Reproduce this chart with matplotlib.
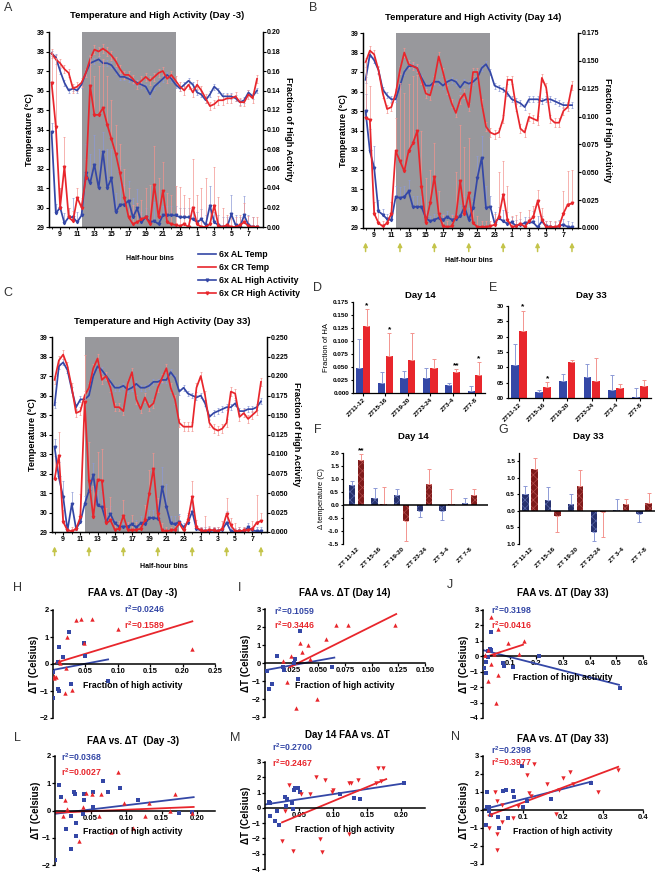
import numpy as np
import matplotlib.pyplot as plt
from matplotlib.lines import Line2D
from matplotlib.ticker import FormatStrFormatter

plt.rcParams['font.family'] = ['Liberation Sans', 'DejaVu Sans']
plt.rcParams['font.weight'] = 'bold'
plt.rcParams['axes.labelweight'] = 'bold'
plt.rcParams['mathtext.fontset'] = 'custom'
plt.rcParams['mathtext.rm'] = 'Liberation Sans:bold'
plt.rcParams['mathtext.default'] = 'rm'
plt.rcParams['hatch.linewidth'] = 0.5

# ---------------- data: half-hour bins 08:00 -> 08:00 next day ----------------
TIMES = 8 + 0.5 * np.arange(49)
TICK_HOURS = [9, 11, 13, 15, 17, 19, 21, 23, 25, 27, 29, 31]
TICK_LABELS = ['9', '11', '13', '15', '17', '19', '21', '23', '1', '3', '5', '7']
ARROW_HOURS = [8, 12, 16, 20, 24, 28, 32]

# panel A, day -3
A_al_temp = [37.9, 37.7, 37.0, 36.4, 36.0, 36.1, 36.0, 36.3, 36.9, 37.4,
             37.5, 37.6, 37.4, 37.4, 37.3, 37.0, 36.7, 36.7, 36.6, 36.5,
             36.4, 36.3, 36.2, 35.8, 36.2, 36.4, 36.6, 36.8, 36.6, 36.3,
             36.1, 36.3, 36.5, 36.3, 35.9, 35.8, 35.5, 35.8, 36.2, 36.0,
             35.7, 35.7, 35.7, 35.6, 35.4, 35.5, 35.9, 35.7, 36.0]
A_cr_temp = [37.9, 37.6, 37.4, 37.1, 36.9, 36.1, 36.2, 36.4, 36.9, 37.6,
             38.1, 38.0, 38.15, 38.0, 37.8, 37.5, 37.1, 36.8, 36.8, 36.6,
             36.3, 36.5, 36.7, 36.5, 36.7, 36.9, 37.0, 36.6, 36.8, 36.5,
             36.2, 36.0, 36.3, 35.9, 36.3, 36.0, 35.6, 35.2, 35.3, 35.5,
             35.5, 35.6, 35.6, 35.7, 35.4, 35.4, 35.8, 35.6, 36.6]
A_al_ha = [0.097, 0.014, 0.020, 0.004, 0.010, 0.010, 0.005, 0.012, 0.055, 0.045,
           0.064, 0.040, 0.077, 0.040, 0.050, 0.015, 0.023, 0.023, 0.027, 0.010,
           0.019, 0.005, 0.010, 0.005, 0.006, 0.003, 0.012, 0.012, 0.012, 0.012,
           0.010, 0.010, 0.010, 0.008, 0.005, 0.008, 0.002, 0.022, 0.005, 0.002,
           0.000, 0.000, 0.013, 0.002, 0.000, 0.012, 0.002, 0.000, 0.000]
A_cr_ha = [0.148, 0.103, 0.020, 0.062, 0.010, 0.006, 0.030, 0.020, 0.050, 0.145,
           0.115, 0.115, 0.122, 0.105, 0.090, 0.075, 0.055, 0.030, 0.010, 0.003,
           0.005, 0.008, 0.010, 0.003, 0.043, 0.010, 0.037, 0.005, 0.003, 0.002,
           0.001, 0.003, 0.000, 0.020, 0.003, 0.000, 0.000, 0.003, 0.022, 0.001,
           0.000, 0.002, 0.000, 0.000, 0.002, 0.005, 0.001, 0.000, 0.000]
A_al_ha_err = [.01, .01, .02, .01, .01, .02, .01, .01, .03, .03,
               .03, .04, .02, .04, .03, .02, .04, .02, .02, .02,
               .02, .01, .01, .01, .02, .01, .01, .01, .01, .01,
               .01, .01, .01, .01, .01, .01, .01, .02, .01, .01,
               .01, .01, .02, .01, .01, .02, .01, .01, 0]
A_cr_ha_err = [.03, .07, .02, .03, .01, .01, .01, .01, .02, .03,
               .04, .05, .05, .05, .04, .03, .03, .03, .03, .02,
               .02, .02, .03, .04, .04, .04, .03, .03, .03, .04,
               .04, .03, .03, .05, .03, .04, .05, .02, .04, .03,
               .02, .01, .01, .01, .01, .02, .01, .01, .01]

# panel B, day 14
B_al_temp = [36.6, 37.9, 37.6, 37.1, 36.1, 35.8, 35.6, 35.6, 36.3, 37.0,
             37.3, 37.3, 37.2, 36.7, 36.3, 36.3, 36.5, 36.5, 36.3, 36.5,
             36.6, 36.5, 36.2, 36.5, 36.4, 36.5, 36.7, 37.2, 37.4, 37.0,
             36.3, 36.2, 36.1, 35.9, 35.6, 35.5, 35.4, 35.2, 35.6, 35.6,
             35.6, 35.5, 35.6, 35.6, 35.5, 35.4, 35.3, 35.3, 35.3]
B_cr_temp = [37.5, 38.1, 37.9, 37.1, 35.9, 35.1, 35.2, 35.9, 37.1, 38.0,
             37.4, 37.3, 37.2, 36.6, 35.9, 35.8, 36.6, 37.8, 37.0, 36.1,
             35.4, 34.9, 35.6, 35.9, 35.2, 37.0, 37.0, 35.4, 34.2, 33.9,
             33.8, 33.9, 34.6, 36.6, 36.6, 35.2, 34.1, 33.9, 34.7, 34.6,
             34.5, 36.7, 36.2, 34.6, 34.4, 34.4, 35.0, 35.2, 36.3]
B_al_ha = [0.105, 0.069, 0.054, 0.015, 0.012, 0.008, 0.007, 0.028, 0.027, 0.028,
           0.033, 0.019, 0.019, 0.019, 0.009, 0.006, 0.0075, 0.009, 0.0075, 0.010,
           0.0075, 0.008, 0.0105, 0.019, 0.0075, 0.018, 0.045, 0.063, 0.018, 0.019,
           0.0045, 0.009, 0.006, 0.004, 0.005, 0.002, 0.003, 0.0045, 0.005, 0.005,
           0.0006, 0.006, 0.0015, 0.001, 0.0, 0.002, 0.003, 0.001, 0.0005]
B_cr_ha = [0.099, 0.097, 0.013, 0.0045, 0.0015, 0.0045, 0.013, 0.069, 0.060, 0.051,
           0.069, 0.076, 0.087, 0.037, 0.0045, 0.022, 0.046, 0.013, 0.0015, 0.001,
           0.0015, 0.010, 0.042, 0.013, 0.031, 0.0045, 0.001, 0.001, 0.001, 0.0015,
           0.003, 0.010, 0.030, 0.0075, 0.001, 0.0015, 0.004, 0.001, 0.006, 0.010,
           0.024, 0.0075, 0.001, 0.001, 0.001, 0.0015, 0.013, 0.021, 0.022]
B_al_ha_err = [.015, .02, .02, .01, .005, .005, .005, .01, .01, .01,
               .01, .01, .01, .01, .005, .005, .005, .005, .005, .005,
               .005, .005, .01, .01, .01, .01, .02, .02, .02, .01,
               .01, .01, .01, .01, .005, .005, .005, .005, .005, .01,
               .01, .005, .005, .005, .005, .005, .005, .005, .005]
B_cr_ha_err = [.05, .03, .01, .01, .005, .005, .01, .03, .07, .07,
               .06, .06, .05, .05, .04, .03, .03, .02, .01, .005,
               .01, .04, .05, .06, .05, .02, .01, .005, .005, .005,
               .01, .04, .03, .03, .01, .01, .01, .005, .01, .01,
               .01, .01, .005, .005, .005, .005, .02, .03, .03]

# panel C, day 33
C_al_temp = [35.5, 37.5, 37.7, 37.3, 36.3, 35.4, 35.8, 35.8, 36.0, 37.0,
             37.5, 37.3, 37.0, 36.7, 36.4, 36.4, 36.5, 36.3, 36.4, 36.6,
             36.4, 36.4, 36.5, 36.7, 36.7, 36.8, 36.8, 37.2, 36.9, 36.2,
             36.4, 36.1, 36.0, 35.9, 36.0, 35.6, 34.9, 35.1, 35.2, 35.3,
             35.4, 35.4, 35.6, 35.2, 35.2, 35.3, 35.3, 35.4, 35.7]
C_cr_temp = [36.8, 37.8, 38.1, 37.5, 36.4, 35.1, 35.2, 36.0, 36.4, 37.4,
             37.9, 36.8, 37.0, 36.4, 35.4, 35.4, 35.2, 36.6, 37.2, 35.8,
             35.3, 35.9, 35.4, 35.6, 36.4, 36.9, 37.4, 36.4, 35.8, 34.6,
             34.4, 34.4, 34.4, 36.4, 37.0, 36.0, 34.6, 34.3, 34.2, 34.3,
             34.6, 36.2, 36.1, 34.9, 35.1, 34.8, 35.0, 35.2, 36.7]
C_al_ha = [0.109, 0.070, 0.045, 0.002, 0.036, 0.004, 0.013, 0.036, 0.053, 0.073,
           0.034, 0.032, 0.013, 0.023, 0.011, 0.007, 0.007, 0.007, 0.010, 0.006,
           0.011, 0.010, 0.018, 0.018, 0.017, 0.058, 0.032, 0.011, 0.010, 0.013,
           0.006, 0.012, 0.026, 0.004, 0.002, 0.001, 0.001, 0.002, 0.001, 0.003,
           0.012, 0.001, 0.0005, 0.001, 0.001, 0.006, 0.002, 0.001, 0.001]
C_cr_ha = [0.068, 0.098, 0.013, 0.002, 0.001, 0.004, 0.019, 0.167, 0.066, 0.019,
           0.067, 0.066, 0.011, 0.015, 0.003, 0.004, 0.021, 0.003, 0.002, 0.003,
           0.004, 0.015, 0.049, 0.081, 0.023, 0.002, 0.001, 0.002, 0.003, 0.011,
           0.002, 0.015, 0.045, 0.006, 0.002, 0.001, 0.003, 0.002, 0.001, 0.004,
           0.023, 0.0085, 0.001, 0.001, 0.002, 0.002, 0.004, 0.012, 0.014]
C_al_ha_err = [.01, .02, .02, .005, .015, .005, .01, .01, .015, .015,
               .02, .02, .01, .01, .005, .005, .005, .005, .005, .01,
               .01, .01, .01, .01, .02, .025, .03, .01, .01, .01,
               .005, .01, .02, .005, .005, .005, .005, .005, .005, .005,
               .015, .005, .005, .005, .005, .005, .005, .005, .005]
C_cr_ha_err = [.03, .03, .015, .005, .005, .005, .03, .06, .05, .04,
               .035, .04, .02, .03, .01, .01, .02, .01, .02, .01,
               .01, .02, .03, .02, .02, .01, .005, .005, .005, .01,
               .005, .01, .02, .01, .005, .02, .005, .005, .005, .01,
               .02, .01, .01, .005, .005, .005, .01, .035, .01]
TEMP_SEM_AL = 0.15
TEMP_SEM_CR = 0.22

# panels D / E: fraction of high activity per ZT window
ZT_LABELS = ['ZT11-12', 'ZT15-16', 'ZT19-20', 'ZT23-24', 'ZT3-4', 'ZT7-8']
D_al = [0.049, 0.019, 0.028, 0.029, 0.016, 0.003]
D_al_tip = [0.104, 0.041, 0.043, 0.049, 0.020, 0.014]
D_cr = [0.128, 0.071, 0.064, 0.049, 0.040, 0.035]
D_cr_tip = [0.161, 0.115, 0.115, 0.065, 0.046, 0.060]
D_stars = ['*', '*', '', '', '**', '*']
E_al = [10.7, 1.8, 5.6, 7.0, 2.7, 0.3]
E_al_tip = [17.5, 2.7, 7.8, 11.2, 7.6, 3.3]
E_cr = [21.8, 3.7, 11.7, 5.4, 3.4, 4.0]
E_cr_tip = [28.5, 5.2, 12.5, 13.2, 4.5, 6.0]
E_stars = ['*', '*', '', '', '', '']
E_ticklabels = ['00', '05', '10', '15', '20', '25', '30']

# panels F / G: delta temperature per ZT window
ZT_LABELS_SP = ['ZT 11-12', 'ZT 15-16', 'ZT 19-20', 'ZT 23-24', 'ZT 3-4', 'ZT 7-8']
F_al = [0.78, 0.25, 0.37, -0.25, -0.22, 0.08]
F_al_tip = [0.93, 0.65, 0.60, -0.47, -0.58, 0.27]
F_cr = [1.72, 0.05, -0.60, 0.82, 0.05, 0.40]
F_cr_tip = [1.95, 0.68, -1.38, 1.37, 0.62, 0.62]
F_stars = ['**', '', '', '', '', '']
G_al = [0.52, 0.32, 0.22, -0.63, 0.04, -0.08]
G_al_tip = [0.76, 0.73, 0.51, -0.92, 0.37, -0.35]
G_cr = [1.28, -0.15, 0.75, -0.03, 0.20, 0.25]
G_cr_tip = [1.60, -0.65, 1.24, -0.78, 0.36, 0.55]
G_stars = ['', '', '', '', '', '']
G_ticklabels = ['1.0', '0.5', '0.0', '0.5', '1.0', '1.5']

# scatter panels: FAA vs delta T
H_al_x = [0.000, 0.000, 0.007, 0.007, 0.009, 0.010, 0.016, 0.025, 0.028, 0.048, 0.050, 0.085]
H_al_y = [-0.28, -1.25, 0.07, -0.94, 0.62, -1.0, 0.25, 1.17, -0.75, 0.77, 0.31, -0.62]
H_cr_x = [0.001, 0.002, 0.004, 0.009, 0.011, 0.018, 0.020, 0.021, 0.030, 0.035, 0.043,
          0.048, 0.060, 0.100, 0.214]
H_cr_y = [-0.44, -0.52, -0.47, 0.10, 0.05, -1.09, -0.15, 1.00, -0.96, 1.63, 1.68,
          0.77, 1.68, 1.30, 0.55]
H_al_fit = ([0.0, 0.085], [-0.22, 0.17])
H_cr_fit = ([0.005, 0.215], [0.05, 1.58])

I_al_x = [0.002, 0.004, 0.007, 0.011, 0.017, 0.018, 0.027, 0.028, 0.031, 0.033, 0.063]
I_al_y = [-0.43, -1.46, -1.17, 0.39, -0.24, -0.40, 0.0, 0.20, -0.87, 1.80, -0.22]
I_cr_x = [0.017, 0.021, 0.024, 0.029, 0.033, 0.035, 0.040, 0.042, 0.049, 0.057, 0.067,
          0.078, 0.122]
I_cr_y = [0.10, -1.07, 0.39, -2.50, 1.13, 0.63, 1.00, 0.20, -2.00, 1.35, 2.10, 2.10, 2.10]
I_al_fit = ([0.0, 0.065], [-0.4, 0.3])
I_cr_fit = ([0.023, 0.123], [-0.24, 2.72])

J_al_x = [0.004, 0.010, 0.011, 0.017, 0.018, 0.025, 0.030, 0.030, 0.074, 0.080, 0.113,
          0.210, 0.515]
J_al_y = [-0.74, -1.08, -0.37, -0.04, 0.36, 0.45, 1.58, 0.43, -0.45, -0.60, -0.70, 0.0, -2.03]
J_cr_x = [0.009, 0.018, 0.018, 0.030, 0.030, 0.040, 0.048, 0.055, 0.055, 0.095, 0.135, 0.154]
J_cr_y = [0.07, 0.40, -1.60, 2.55, -0.50, 0.16, -3.0, 1.75, -1.20, 0.84, 0.14, 0.96]
J_al_fit = ([0.0, 0.51], [0.4, -1.85])
J_cr_fit = ([0.008, 0.15], [-0.05, 0.75])

L_al_x = [0.000, 0.006, 0.008, 0.015, 0.022, 0.022, 0.027, 0.028, 0.030, 0.030, 0.039,
          0.041, 0.041, 0.053, 0.053, 0.068, 0.074, 0.092, 0.117, 0.174, 0.193]
L_al_y = [-1.80, 0.94, 0.49, -0.67, -0.20, -1.43, 0.69, 0.60, -0.45, -0.93, -0.14,
          0.60, 0.37, 0.13, 0.68, 1.07, 0.68, 0.83, 0.37, -0.10, -0.07]
L_cr_x = [0.011, 0.014, 0.017, 0.034, 0.040, 0.044, 0.052, 0.062, 0.064, 0.079, 0.089,
          0.097, 0.109, 0.127, 0.132, 0.162, 0.169, 0.193]
L_cr_y = [-0.20, 0.40, 0.05, -1.13, 0.12, 0.63, 0.60, -0.20, 0.60, -0.80, 1.40,
          0.26, -0.66, -0.20, 0.29, 0.0, 0.60, -0.08]
L_al_fit = ([0.0, 0.195], [-0.12, 0.49])
L_cr_fit = ([0.0, 0.195], [-0.08, 0.13])

M_al_x = [0.006, 0.007, 0.007, 0.014, 0.017, 0.021, 0.029, 0.032, 0.031, 0.039, 0.041,
          0.042, 0.044, 0.048, 0.052, 0.110, 0.130, 0.140, 0.204]
M_al_y = [0.41, -0.50, 0.35, -0.87, -0.20, -1.10, 0.72, 0.58, 0.10, 0.30, -0.09,
          1.17, 1.30, 1.33, 1.07, 0.89, 0.67, 0.60, 1.64]
M_cr_x = [0.025, 0.029, 0.035, 0.041, 0.053, 0.066, 0.075, 0.081, 0.084, 0.088, 0.098,
          0.100, 0.123, 0.124, 0.127, 0.137, 0.163, 0.166, 0.170, 0.174]
M_cr_y = [-2.19, -0.20, 1.50, -2.84, 0.90, 0.90, 2.05, -2.06, -2.90, 1.80, 1.05,
          1.17, 1.60, -1.70, 1.60, 1.80, 1.60, 2.60, 1.73, 2.60]
M_al_fit = ([0.0, 0.204], [0.22, 1.6])
M_cr_fit = ([0.025, 0.178], [-0.95, 1.88])

N_al_x = [0.0075, 0.009, 0.010, 0.014, 0.016, 0.020, 0.038, 0.040, 0.050, 0.0575, 0.0625,
          0.075, 0.078, 0.100, 0.0975, 0.110, 0.170, 0.270]
N_al_y = [-0.83, 0.19, 0.98, 0.19, -0.06, -0.30, -0.39, -0.98, 1.06, 1.11, -0.43,
          1.06, 0.70, 0.15, 2.44, 0.50, 0.59, 1.50]
N_cr_x = [0.015, 0.020, 0.030, 0.035, 0.035, 0.034, 0.048, 0.048, 0.075, 0.088, 0.110,
          0.115, 0.120, 0.127, 0.160, 0.183, 0.200, 0.190, 0.217, 0.225, 0.288, 0.338]
N_cr_y = [-1.00, -0.30, 1.00, -1.31, 0.50, -2.20, -0.67, 0.30, -0.46, 0.20, 1.94,
          0.92, 0.80, 2.57, 1.46, -0.20, 1.76, 1.10, 2.13, 1.46, 1.00, 2.20]
N_al_fit = ([0.005, 0.27], [0.06, 1.57])
N_cr_fit = ([0.014, 0.338], [-0.3, 2.4])

# ---------------- styles ----------------
BLUE = '#3447a6'
RED = '#e8262c'
LBLUE = '#8d9ad6'
LRED = '#f3948f'
DBLUE = '#26316d'
DRED = '#7e1b1b'
GREY = '#98989c'
ARROW = '#c4c44a'

W, H = 659, 876
fig = plt.figure(figsize=(W / 100, H / 100), dpi=100)


def rect(l, t, r, b):
    return [l / W, 1 - b / H, (r - l) / W, (b - t) / H]


def ftext(x, y, s, **kw):
    kw.setdefault('ha', 'center')
    kw.setdefault('va', 'center')
    fig.text(x / W, 1 - y / H, s, **kw)


def letter(x, y, s):
    ftext(x, y, s, fontsize=9, fontweight='normal', color='#333333')


# ---------------- timeseries panels ----------------
def time_panel(box, al_t, cr_t, al_ha, cr_ha, al_err, cr_err, ha_top, ha_step, ha_fmt,
               title, title_xy, xlab_xy, arrows):
    ax = fig.add_axes(rect(*box))
    ax.axvspan(11.5, 22.5, color=GREY, lw=0, zorder=0)
    ax.errorbar(TIMES, al_t, yerr=TEMP_SEM_AL, color=BLUE, ecolor=LBLUE, lw=1.25,
                elinewidth=0.5, capsize=1, capthick=0.5)
    ax.errorbar(TIMES, cr_t, yerr=TEMP_SEM_CR, color=RED, ecolor=LRED, lw=1.25,
                elinewidth=0.5, capsize=1, capthick=0.5)
    ax.set_xlim(7.7, 32.7)
    ax.set_ylim(29, 39)
    ax.set_yticks(range(29, 40))
    ax.set_xticks(TICK_HOURS)
    ax.set_xticklabels(TICK_LABELS)
    ax.set_xticks(np.arange(8, 33), minor=True)
    ax.spines['top'].set_visible(False)
    ax.set_ylabel('Temperature (°C)', fontsize=6.5, labelpad=2)
    ax.tick_params(labelsize=5, length=2, width=0.8, pad=1)
    ax.tick_params(which='minor', length=1.2, width=0.6)
    for s in ax.spines.values():
        s.set_linewidth(0.9)

    ax2 = ax.twinx()
    zeros = np.zeros(len(TIMES))
    ax2.errorbar(TIMES, al_ha, yerr=[zeros, al_err], color=BLUE, ecolor=LBLUE, lw=1.25,
                 marker='v', ms=1.8, elinewidth=0.5, capsize=1, capthick=0.5)
    ax2.errorbar(TIMES, cr_ha, yerr=[zeros, cr_err], color=RED, ecolor=LRED, lw=1.25,
                 marker='v', ms=1.8, elinewidth=0.5, capsize=1, capthick=0.5)
    ax2.set_ylim(0, ha_top)
    ax2.set_yticks(np.arange(0, ha_top + ha_step / 2, ha_step))
    ax2.yaxis.set_major_formatter(FormatStrFormatter(ha_fmt))
    ax2.set_ylabel('Fraction of High Activity', fontsize=6.5, rotation=270, labelpad=9)
    ax2.tick_params(labelsize=5, length=2, width=0.8, pad=1)
    ax2.spines['top'].set_visible(False)
    for s in ax2.spines.values():
        s.set_linewidth(0.9)

    ftext(*title_xy, title, fontsize=6.8)
    ftext(*xlab_xy, 'Half-hour bins', fontsize=5)
    if arrows:
        for hr in ARROW_HOURS:
            ax.annotate('', xy=(hr, -0.06), xytext=(hr, -0.135),
                        xycoords=('data', 'axes fraction'),
                        arrowprops=dict(arrowstyle='-|>', color=ARROW, lw=1.1,
                                        mutation_scale=6),
                        annotation_clip=False)
    return ax


time_panel((49, 32, 263, 227), A_al_temp, A_cr_temp, A_al_ha, A_cr_ha, A_al_ha_err,
           A_cr_ha_err, 0.20, 0.02, '%.2f', 'Temperature and High Activity (Day -3)',
           (157, 16), (150, 259), False)
time_panel((363, 33, 578, 228), B_al_temp, B_cr_temp, B_al_ha, B_cr_ha, B_al_ha_err,
           B_cr_ha_err, 0.175, 0.025, '%.3f', 'Temperature and High Activity (Day 14)',
           (473, 18), (469, 261), True)
time_panel((52, 337, 267, 532), C_al_temp, C_cr_temp, C_al_ha, C_cr_ha, C_al_ha_err,
           C_cr_ha_err, 0.25, 0.025, '%.3f', 'Temperature and High Activity (Day 33)',
           (162, 322), (164, 566), True)

legend_handles = [
    Line2D([], [], color=BLUE, lw=1.2, label='6x AL Temp'),
    Line2D([], [], color=RED, lw=1.2, label='6x CR Temp'),
    Line2D([], [], color=BLUE, lw=1.2, marker='v', ms=2, label='6x AL High Activity'),
    Line2D([], [], color=RED, lw=1.2, marker='v', ms=2, label='6x CR High Activity'),
]
fig.legend(handles=legend_handles, loc='upper left', bbox_to_anchor=(192 / W, 1 - 244 / H),
           frameon=False, fontsize=6.3, handlelength=2.0, handletextpad=0.4,
           labelspacing=0.45, borderpad=0.2)


# ---------------- bar panels ----------------
def bar_panel(box, al, al_tip, cr, cr_tip, stars, labels, ylim, yticks, yticklabels,
              title, title_xy, hatched=False):
    ax = fig.add_axes(rect(*box))
    x = np.arange(len(al))
    al = np.array(al)
    cr = np.array(cr)
    if hatched:
        ax.bar(x - 0.2, al, 0.28, color=DBLUE, edgecolor='#5866a8', hatch='xxxx', lw=0)
        ax.bar(x + 0.2, cr, 0.28, color=DRED, edgecolor='#b04a4a', hatch='xxxx', lw=0)
        offs = 0.2
    else:
        ax.bar(x - 0.17, al, 0.32, color=BLUE)
        ax.bar(x + 0.17, cr, 0.32, color=RED)
        offs = 0.17
    for vals, tips, pos, ec in ((al, np.array(al_tip), x - offs, LBLUE),
                                (cr, np.array(cr_tip), x + offs, LRED)):
        lo = np.clip(vals - tips, 0, None)
        hi = np.clip(tips - vals, 0, None)
        ax.errorbar(pos, vals, yerr=[lo, hi], fmt='none', ecolor=ec, elinewidth=0.7,
                    capsize=1.5, capthick=0.7)
    for xi, tip, s in zip(x, cr_tip, stars):
        if s:
            ax.text(xi + offs, max(tip, 0), s, ha='center', va='bottom', fontsize=6)
    ax.set_ylim(*ylim)
    ax.set_yticks(yticks)
    if yticklabels is not None:
        ax.set_yticklabels(yticklabels)
    ax.set_xticks(x)
    ax.set_xticklabels(labels, rotation=45, ha='right', rotation_mode='anchor')
    ax.spines['top'].set_visible(False)
    ax.spines['right'].set_visible(False)
    ax.tick_params(labelsize=4.6, length=1.8, width=0.8, pad=1)
    for s in ax.spines.values():
        s.set_linewidth(0.9)
    if hatched:
        ax.spines['bottom'].set_visible(False)
        ax.axhline(0, color='black', lw=1.1)
        ax.tick_params(axis='x', length=0, pad=2)
    ftext(*title_xy, title, fontsize=6.8)
    return ax


axD = bar_panel((353, 302, 485, 393), D_al, D_al_tip, D_cr, D_cr_tip, D_stars, ZT_LABELS,
                (0, 0.175), np.arange(0, 0.176, 0.025), None, 'Day 14', (420, 295))
axD.yaxis.set_major_formatter(FormatStrFormatter('%.3f'))
axD.set_xlim(-0.45, 5.45)
axD.set_ylabel('Fraction of HA', fontsize=5.5, fontweight='normal', labelpad=2)

axE = bar_panel((508, 306, 651, 398), E_al, E_al_tip, E_cr, E_cr_tip, E_stars, ZT_LABELS,
                (0, 30), np.arange(0, 31, 5), E_ticklabels, 'Day 33', (591, 295))
axE.set_xlim(-0.45, 5.45)

axF = bar_panel((343, 453, 488, 544), F_al, F_al_tip, F_cr, F_cr_tip, F_stars, ZT_LABELS_SP,
                (-1.5, 2.0), np.arange(-1.5, 2.01, 0.5), None, 'Day 14', (413, 437),
                hatched=True)
axF.yaxis.set_major_formatter(FormatStrFormatter('%.1f'))
axF.set_xlim(-0.6, 5.82)
axF.set_ylabel('Δ temperature (C)', fontsize=5.5, fontweight='normal', labelpad=2)

axG = bar_panel((519, 453, 655, 544), G_al, G_al_tip, G_cr, G_cr_tip, G_stars, ZT_LABELS_SP,
                (-1.0, 1.75), np.arange(-1.0, 1.51, 0.5), G_ticklabels, 'Day 33', (588, 437),
                hatched=True)
axG.set_xlim(-0.48, 5.48)


# ---------------- scatter panels ----------------
def scatter_panel(box, xlim, ylim, xticks, xfmt, yticks, al_x, al_y, cr_x, cr_y,
                  al_fit, cr_fit, r2_al, r2_cr, r2_pos, cr_marker, title, title_xy, xlab_xy):
    ax = fig.add_axes(rect(*box))
    ax.plot(*al_fit, color=BLUE, lw=1.3)
    ax.plot(*cr_fit, color=RED, lw=1.3)
    ax.scatter(al_x, al_y, marker='s', s=9, color=BLUE, lw=0, zorder=3)
    ax.scatter(cr_x, cr_y, marker=cr_marker, s=10, color=RED, lw=0, zorder=3)
    ax.set_xlim(*xlim)
    ax.set_ylim(*ylim)
    ax.set_xticks(xticks)
    ax.xaxis.set_major_formatter(FormatStrFormatter(xfmt))
    ax.set_yticks(yticks)
    ax.spines['bottom'].set_position(('data', 0))
    ax.spines['top'].set_visible(False)
    ax.spines['right'].set_visible(False)
    for s in ax.spines.values():
        s.set_linewidth(1.1)
    ax.tick_params(labelsize=5.5, length=2, width=0.9, pad=1)
    ax.set_ylabel('ΔT (Celsius)', fontsize=7, labelpad=1)
    ftext(*xlab_xy, 'Fraction of high activity', fontsize=6.3)
    ftext(r2_pos[0], r2_pos[1], r'r$^{2}$=' + r2_al, fontsize=6.3, color=BLUE, ha='left')
    ftext(r2_pos[0], r2_pos[2], r'r$^{2}$=' + r2_cr, fontsize=6.3, color=RED, ha='left')
    ftext(*title_xy, title, fontsize=7)
    return ax


scatter_panel((53, 610, 215, 718), (0, 0.25), (-2, 2), [0.05, 0.10, 0.15, 0.20, 0.25], '%.2f',
              [-2, -1, 0, 1, 2], H_al_x, H_al_y, H_cr_x, H_cr_y, H_al_fit, H_cr_fit,
              '0.0246', '0.1589', (124, 609, 625), '^', 'FAA vs. ΔT (Day -3)', (133, 593),
              (133, 685))
scatter_panel((265, 609, 425, 717), (0, 0.15), (-3, 3),
              [0.025, 0.05, 0.075, 0.10, 0.125, 0.15], '%.3f', [-3, -2, -1, 0, 1, 2, 3],
              I_al_x, I_al_y, I_cr_x, I_cr_y, I_al_fit, I_cr_fit, '0.1059', '0.3446',
              (274, 611, 625), '^', 'FAA vs. ΔT (Day 14)', (345, 593), (345, 686))
scatter_panel((483, 610, 643, 718), (0, 0.6), (-4, 3), [0.1, 0.2, 0.3, 0.4, 0.5, 0.6], '%.1f',
              [-4, -3, -2, -1, 0, 1, 2, 3], J_al_x, J_al_y, J_cr_x, J_cr_y, J_al_fit,
              J_cr_fit, '0.3198', '0.0416', (491, 610, 625), '^', 'FAA vs. ΔT (Day 33)',
              (563, 593), (563, 677))
scatter_panel((55, 756, 215, 865), (0, 0.225), (-2, 2), [0.05, 0.10, 0.15, 0.20], '%.2f',
              [-2, -1, 0, 1, 2], L_al_x, L_al_y, L_cr_x, L_cr_y, L_al_fit, L_cr_fit,
              '0.0368', '0.0027', (61, 757, 772), '^', 'FAA vs. ΔT  (Day -3)', (133, 741),
              (133, 832))
scatter_panel((265, 762, 425, 869), (0, 0.235), (-4, 3), [0.05, 0.10, 0.15, 0.20], '%.2f',
              [-4, -3, -2, -1, 0, 1, 2, 3], M_al_x, M_al_y, M_cr_x, M_cr_y, M_al_fit,
              M_cr_fit, '0.2700', '0.2467', (272, 747, 763), 'v', 'Day 14 FAA vs. ΔT',
              (347, 735), (345, 830))
scatter_panel((483, 756, 643, 864), (0, 0.4), (-3, 3), [0.1, 0.2, 0.3, 0.4], '%.1f',
              [-3, -2, -1, 0, 1, 2, 3], N_al_x, N_al_y, N_cr_x, N_cr_y, N_al_fit, N_cr_fit,
              '0.2398', '0.3977', (491, 750, 762), 'v', 'FAA vs. ΔT (Day 33)', (563, 739),
              (563, 832))

# ---------------- panel letters ----------------
for s, x, y in [('A', 8, 8), ('B', 313, 8), ('C', 8, 293), ('D', 317, 288), ('E', 493, 288),
                ('F', 318, 430), ('G', 503, 430), ('H', 18, 588), ('I', 240, 588),
                ('J', 450, 585), ('L', 17, 738), ('M', 235, 738), ('N', 455, 737)]:
    letter(x, y, s)

fig.savefig('out.png', dpi=100)
